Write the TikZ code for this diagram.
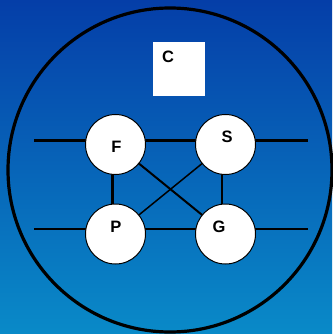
\documentclass[tikz,border=0pt]{standalone}
\usepackage{fontspec}
\setmainfont{Liberation Sans}
\begin{document}
\begin{tikzpicture}[x=1pt,y=-1pt,
  ball/.style={circle,draw=black,line width=1pt,fill=white,minimum size=60pt,inner sep=0pt},
  lbl/.style={font=\fontsize{16.5}{16.5}\selectfont\bfseries,inner sep=0pt},
  wire/.style={draw=black,line width=3pt},
  thin/.style={draw=black,line width=2pt}]
\definecolor{bgtop}{RGB}{5,62,168}
\definecolor{bgbot}{RGB}{9,138,200}
\useasboundingbox (0,0) rectangle (332,334);
\shade[top color=bgtop,bottom color=bgbot] (0,0) rectangle (332,334);
\draw[line width=3.2pt] (170,170) circle (162);
% box C
\node[fill=white,minimum width=52pt,minimum height=54pt,inner sep=0pt] (box) at (179,69) {};
\node[lbl] (cl) at (168,56.5) {C};
% coordinates for free ends
\coordinate (lt) at (34,140);
\coordinate (rt) at (308,140);
\coordinate (lb) at (34,229);
\coordinate (rb) at (308,229);
% nodes positions
\coordinate (Fc) at (115.5,144.5);
\coordinate (Sc) at (225.5,144.5);
\coordinate (Pc) at (115.5,234);
\coordinate (Gc) at (225.5,234);
% connectors
\draw[wire] (lt) -- (rt);
\draw[thin] (lb) -- (rb);
\draw[wire] (112,160) -- (112,215);
\draw[thin] (222,160) -- (222,215);
\draw[thin] (Fc) -- (Gc);
\draw[line width=1.5pt] (Sc) -- (Pc);
% balls
\node[ball] (F) at (Fc) {};
\node[ball] (S) at (Sc) {};
\node[ball] (P) at (Pc) {};
\node[ball] (G) at (Gc) {};
\node[lbl] (Fl) at (116.5,147) {F};
\node[lbl] (Sl) at (227,137) {S};
\node[lbl] (Pl) at (116,227) {P};
\node[lbl] (Gl) at (219,227) {G};
\end{tikzpicture}
\end{document}
